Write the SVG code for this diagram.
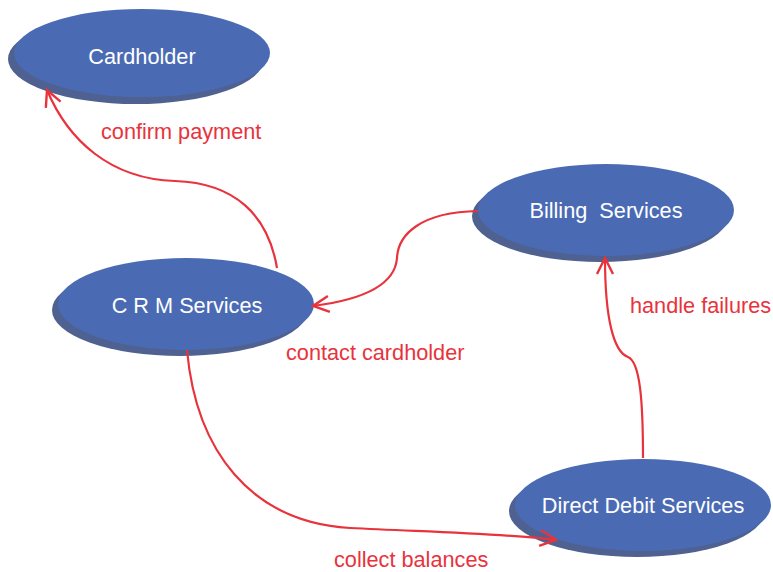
<svg xmlns="http://www.w3.org/2000/svg" width="773" height="572" viewBox="0 0 773 572">
<defs>
<style>
.shadow{fill:#4f6190}
.main{fill:#4a6bb4}
.ntext{font-family:"Liberation Sans",Arial,sans-serif;font-size:21.7px;fill:#ffffff;text-anchor:middle;white-space:pre}
.edge{fill:none;stroke:#e8333c;stroke-width:2.2}
.elabel{font-family:"Liberation Sans",Arial,sans-serif;font-size:21.7px;fill:#e8333c}
</style>
<marker id="arr" viewBox="0 0 20 20" refX="18" refY="10" markerWidth="20" markerHeight="20" markerUnits="userSpaceOnUse" orient="auto">
<path d="M2,2 L18,10 L2,18" fill="none" stroke="#e8333c" stroke-width="2.4"/>
</marker>
</defs>
<rect width="773" height="572" fill="#ffffff"/>
<g id="cardholder">
<ellipse class="shadow" cx="136" cy="59" rx="128" ry="45"/>
<ellipse class="main" cx="142" cy="53" rx="128" ry="44"/>
<text class="ntext" x="142" y="64">Cardholder</text>
</g>
<g id="crm">
<ellipse class="shadow" cx="180" cy="310" rx="128" ry="46"/>
<ellipse class="main" cx="186" cy="304" rx="128" ry="46"/>
<text class="ntext" x="187" y="313">C R M Services</text>
</g>
<g id="billing">
<ellipse class="shadow" cx="600" cy="216" rx="128" ry="46"/>
<ellipse class="main" cx="606" cy="210" rx="128" ry="46"/>
<text class="ntext" x="606" y="218" xml:space="preserve">Billing  Services</text>
</g>
<g id="directdebit">
<ellipse class="shadow" cx="637" cy="511" rx="128" ry="46"/>
<ellipse class="main" cx="643" cy="505" rx="128" ry="46"/>
<text class="ntext" x="643" y="513">Direct Debit Services</text>
</g>
<g id="connectors">
<path class="edge" marker-end="url(#arr)" d="M277,268 C268,215 235,183 175,181 C110,179 68,140 47,90"/>
<path class="edge" marker-end="url(#arr)" d="M478,211 C420,212 398,235 397,258 C395,286 360,300 313,306"/>
<path class="edge" marker-end="url(#arr)" d="M643,458 C643,400 640,362 628,357 C614,352 605,320 605,258"/>
<path class="edge" marker-end="url(#arr)" d="M187,350 C196,450 250,522 350,528 C430,532 500,533 556,540"/>
<text class="elabel" x="101" y="139">confirm payment</text>
<text class="elabel" x="286" y="360">contact cardholder</text>
<text class="elabel" x="630" y="313">handle failures</text>
<text class="elabel" x="334" y="567">collect balances</text>
</g>
</svg>
